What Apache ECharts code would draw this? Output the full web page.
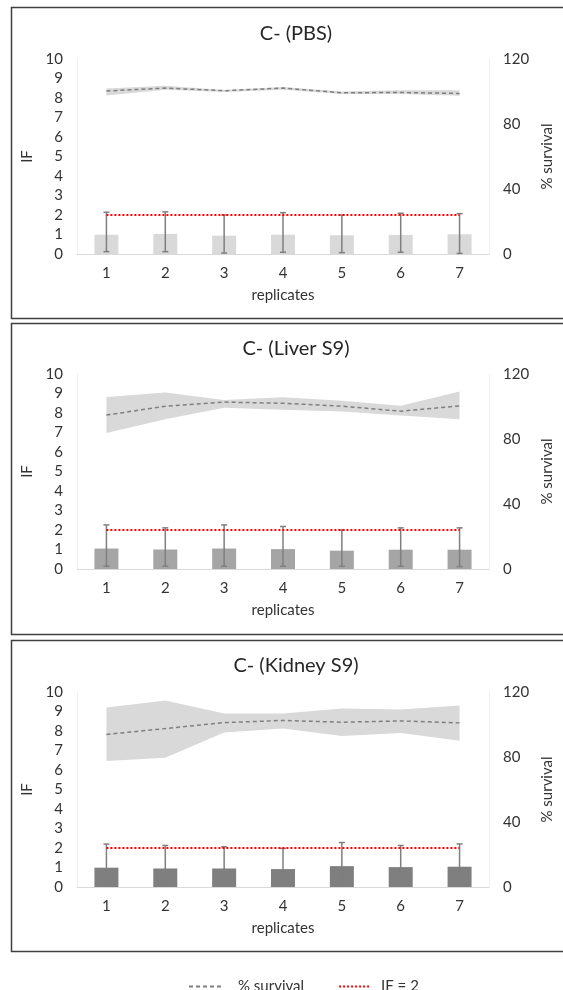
<!DOCTYPE html>
<html>
<head>
<meta charset="utf-8">
<script src="https://cdn.jsdelivr.net/npm/echarts@6/dist/echarts.min.js"></script>
<style>
  html, body { margin: 0; padding: 0; background: #fff; }
  #chart { width: 563px; height: 990px; }
</style>
</head>
<body>
<div id="chart"></div>
<script>
var categories = ["1", "2", "3", "4", "5", "6", "7"];
var panelTitles = ["C- (PBS)", "C- (Liver S9)", "C- (Kidney S9)"];
var ifTicks = [0, 10, 1];
var survivalTicks = [0, 120, 40];
var threshold = [2, 2, 2, 2, 2, 2, 2];

// IF bars and error bar ends
var pbsIF = [0.99, 1.03, 0.94, 0.99, 0.96, 0.98, 1.01];
var pbsErrLow = [0.12, 0.12, 0.05, 0.09, 0.07, 0.09, 0.03];
var pbsErrHigh = [2.14, 2.16, 2.0, 2.12, 2.0, 2.09, 2.07];
var liverIF = [1.05, 1.0, 1.05, 1.02, 0.94, 0.99, 0.99];
var liverErrLow = [0.14, 0.14, 0.14, 0.14, 0.14, 0.14, 0.12];
var liverErrHigh = [2.26, 2.11, 2.26, 2.18, 2.0, 2.11, 2.11];
var kidneyIF = [0.99, 0.95, 0.95, 0.92, 1.07, 1.02, 1.04];
var kidneyErrLow = [0.22, 0.22, 0.12, 0.1, 0.19, 0.12, 0.17];
var kidneyErrHigh = [2.2, 2.13, 2.06, 1.98, 2.28, 2.13, 2.21];

// % survival line and its band
var pbsSurv = [100.3, 102.1, 100.5, 102.1, 99.2, 99.4, 98.8];
var pbsSurvLow = [97.6, 101.1, 99.7, 101.1, 98.4, 98.4, 97.4];
var pbsSurvHigh = [101.9, 103.6, 101.0, 102.7, 100.0, 100.7, 100.7];
var liverSurv = [94.7, 100.2, 102.7, 102.0, 100.2, 97.1, 100.4];
var liverSurvLow = [83.7, 92.2, 99.2, 98.0, 96.9, 94.5, 92.2];
var liverSurvHigh = [105.9, 108.6, 104.0, 105.7, 103.5, 100.4, 109.2];
var kidneySurv = [93.9, 97.5, 101.2, 102.5, 101.4, 102.2, 101.0];
var kidneySurvLow = [77.5, 79.5, 95.1, 97.5, 93.0, 94.7, 90.0];
var kidneySurvHigh = [110.4, 114.7, 106.7, 106.7, 109.8, 109.2, 111.7];

var panels = [
    { title: panelTitles[0], bars: pbsIF, lo: pbsErrLow, hi: pbsErrHigh, surv: pbsSurv, sLo: pbsSurvLow, sHi: pbsSurvHigh },
    { title: panelTitles[1], bars: liverIF, lo: liverErrLow, hi: liverErrHigh, surv: liverSurv, sLo: liverSurvLow, sHi: liverSurvHigh },
    { title: panelTitles[2], bars: kidneyIF, lo: kidneyErrLow, hi: kidneyErrHigh, surv: kidneySurv, sLo: kidneySurvLow, sHi: kidneySurvHigh }
];

var font = "Lato";
var barColors = ["#d9d9d9", "#a5a5a5", "#7f7f7f"];
var gridTops = [59, 374, 692];
var titleTops = [19, 334, 651];
var boxes = [[7, 311], [323, 311], [640, 311]];

var titles = [], grids = [], xAxes = [], yAxes = [], series = [], graphics = [];

function errorBarItem(params, api) {
    var x = api.value(0);
    var top = api.coord([x, api.value(2)]);
    var bottom = api.coord([x, api.value(1)]);
    var cap = 3;
    var style = { stroke: "#7f7f7f", lineWidth: 1.5 };
    return {
        type: "group",
        children: [
            { type: "line", shape: { x1: top[0], y1: top[1], x2: bottom[0], y2: bottom[1] }, style: style },
            { type: "line", shape: { x1: top[0] - cap, y1: top[1], x2: top[0] + cap, y2: top[1] }, style: style },
            { type: "line", shape: { x1: bottom[0] - cap, y1: bottom[1], x2: bottom[0] + cap, y2: bottom[1] }, style: style }
        ]
    };
}

panels.forEach(function (p, i) {
    titles.push({
        text: p.title, left: 291, top: titleTops[i], textAlign: "center",
        textStyle: { fontFamily: font, fontSize: 20, fontWeight: "normal", color: "#262626" }
    });
    graphics.push({
        type: "rect",
        shape: { x: 11.5, y: boxes[i][0] + 0.5, width: 570, height: boxes[i][1] },
        style: { fill: null, stroke: "#404040", lineWidth: 1.5 },
        silent: true
    });
    grids.push({ left: 77, width: 422, top: gridTops[i], height: 195 });
    xAxes.push({
        type: "category", gridIndex: i, data: categories,
        name: "replicates", nameLocation: "middle", nameGap: 34,
        nameTextStyle: { fontFamily: font, fontSize: 15, color: "#333" },
        axisLine: { lineStyle: { color: "#d9d9d9" } },
        axisTick: { show: false },
        axisLabel: { fontFamily: font, fontSize: 15, color: "#333", margin: 12 }
    });
    yAxes.push({
        type: "value", gridIndex: i, position: "left",
        min: ifTicks[0], max: ifTicks[1], interval: ifTicks[2],
        name: "IF", nameLocation: "middle", nameGap: 33, nameRotate: 90,
        nameTextStyle: { fontFamily: font, fontSize: 15, color: "#333" },
        axisLine: { show: true, lineStyle: { color: "#f0f0f0" } },
        axisTick: { show: false }, splitLine: { show: false },
        axisLabel: { fontFamily: font, fontSize: 15, color: "#333", margin: 14 }
    });
    yAxes.push({
        type: "value", gridIndex: i, position: "right",
        min: survivalTicks[0], max: survivalTicks[1], interval: survivalTicks[2],
        name: "% survival", nameLocation: "middle", nameGap: 43, nameRotate: 90,
        nameTextStyle: { fontFamily: font, fontSize: 15, color: "#333" },
        axisLine: { show: true, lineStyle: { color: "#f0f0f0" } },
        axisTick: { show: false }, splitLine: { show: false },
        axisLabel: { fontFamily: font, fontSize: 15, color: "#333", margin: 14 }
    });

    var left = 2 * i, right = 2 * i + 1;
    var spread = p.sHi.map(function (v, k) { return v - p.sLo[k]; });

    series.push({
        name: "band low " + i, type: "line", xAxisIndex: i, yAxisIndex: right,
        stack: "band" + i, data: p.sLo, symbol: "none", silent: true,
        lineStyle: { opacity: 0 }, z: 1
    });
    series.push({
        name: "band " + i, type: "line", xAxisIndex: i, yAxisIndex: right,
        stack: "band" + i, data: spread, symbol: "none", silent: true,
        lineStyle: { opacity: 0 }, areaStyle: { color: "#d9d9d9", opacity: 1 }, z: 1
    });
    series.push({
        name: "IF", type: "bar", xAxisIndex: i, yAxisIndex: left,
        data: p.bars, barWidth: 24, itemStyle: { color: barColors[i] }, z: 2
    });
    series.push({
        name: "err " + i, type: "custom", xAxisIndex: i, yAxisIndex: left,
        data: categories.map(function (c, k) { return [k, p.lo[k], p.hi[k]]; }),
        renderItem: errorBarItem, z: 3
    });
    series.push({
        name: "% survival", type: "line", xAxisIndex: i, yAxisIndex: right,
        data: p.surv, symbol: "none", color: "#7f7f7f",
        lineStyle: { color: "#7f7f7f", width: 1.5, type: [4, 3] }, z: 4
    });
    series.push({
        name: "IF = 2", type: "line", xAxisIndex: i, yAxisIndex: left,
        data: threshold, symbol: "none", color: "#ff0000",
        lineStyle: { color: "#ff0000", width: 2, type: [2, 2] }, z: 5
    });
});

var option = {
    animation: false,
    title: titles,
    grid: grids,
    xAxis: xAxes,
    yAxis: yAxes,
    series: series,
    graphic: graphics,
    legend: {
        data: [
            { name: "% survival", textStyle: { padding: [0, 0, 0, 12] } },
            { name: "IF = 2", textStyle: { padding: [0, 0, 0, 5] } }
        ],
        left: 183, top: 974,
        itemWidth: 32, itemHeight: 14, itemGap: 34,
        itemStyle: { opacity: 0 },
        textStyle: { fontFamily: font, fontSize: 15, color: "#333" }
    }
};

var myChart = echarts.init(document.getElementById("chart"));
myChart.setOption(option);
</script>
</body>
</html>
